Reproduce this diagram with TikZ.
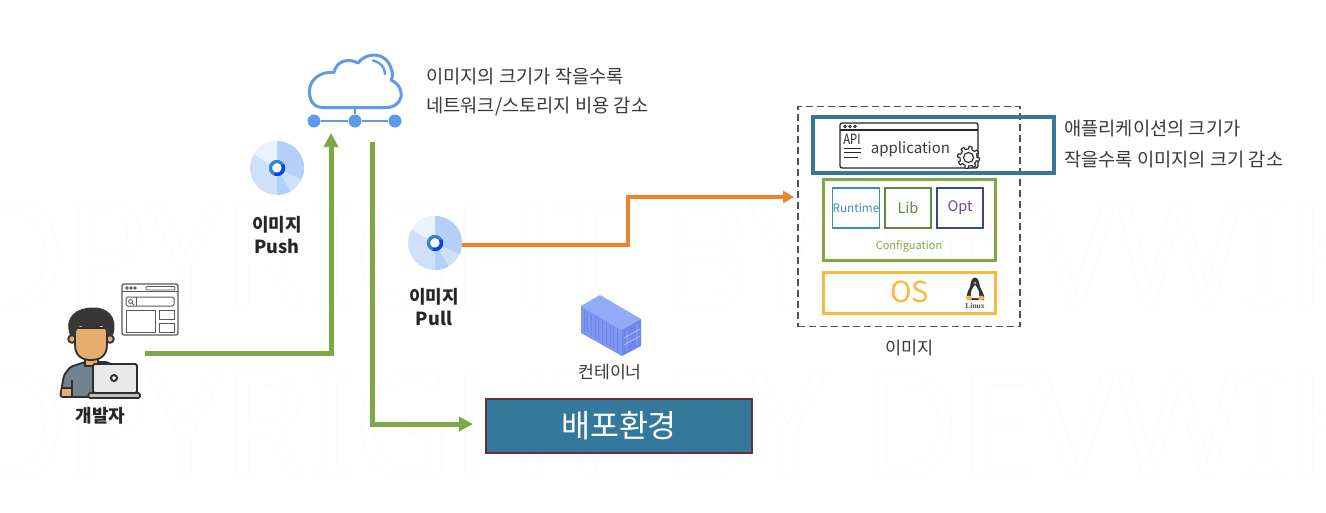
\documentclass[tikz,border=0pt]{standalone}
\usepackage{fontspec}
\usepackage{graphicx}
\setmainfont{Noto Sans CJK KR}
\newfontfamily\wmf[FakeStretch=0.925]{Noto Sans}
\newfontfamily\serf{Liberation Serif}
\usetikzlibrary{arrows.meta}
\definecolor{grn}{HTML}{7CA845}
\definecolor{org}{HTML}{E8832F}
\definecolor{tealb}{HTML}{34799B}
\definecolor{blu}{HTML}{5F9BEA}
\definecolor{txt}{HTML}{3A3A3A}
\definecolor{ylw}{HTML}{F7B93F}
\definecolor{dlg}{HTML}{2F2F2F}
\definecolor{skin}{HTML}{E5AE6E}
\definecolor{shirt}{HTML}{71838F}
\definecolor{dsk}{HTML}{CFE0FA}
\definecolor{dsk2}{HTML}{B4D0F8}
\definecolor{dsk3}{HTML}{EAF2FD}
\definecolor{ctop}{HTML}{93ABF6}
\definecolor{cside}{HTML}{7F96F0}
\definecolor{cend}{HTML}{6F88E8}
\definecolor{cline}{HTML}{6C84E4}
\definecolor{dashc}{HTML}{4D5259}
\definecolor{rtc}{HTML}{3E8FB0}
\definecolor{libc}{HTML}{5E8A45}
\definecolor{optb}{HTML}{2F4A8F}
\definecolor{optt}{HTML}{6B4A8E}
\definecolor{depb}{HTML}{6E2C3A}
\tikzset{
  lbl/.style={font=\fontsize{18.7}{22}\selectfont,text=txt,inner sep=0pt,anchor=west},
  blbl/.style={font=\fontsize{18}{21.5}\selectfont\bfseries,text=black!85,inner sep=0pt,align=center},
  flow/.style={line width=5pt,color=grn,-{Triangle[length=14pt,width=14pt]}},
  orflow/.style={line width=3.6pt,color=org,-{Triangle[length=11pt,width=12pt]}},
  pt/.style={inner sep=0pt,minimum size=0pt},
  ibox/.style={draw,inner sep=0pt,fill=none},
  wmk/.style={pt,anchor=base west,font=\fontsize{146}{150}\selectfont\wmf},
}
\newcommand{\disc}[2]{%
  \begin{scope}[shift={(#1,#2)}]
    \fill[dsk] (0,0) circle (27);
    \fill[dsk2] (0,0) -- (-90:27) arc (-90:25:27) -- cycle;
    \fill[dsk2] (0,0) -- (60:27) arc (60:90:27) -- cycle;
    \fill[dsk3] (0,0) -- (-90:27) arc (-90:-150:27) -- cycle;
    \fill[white] (0,0) circle (8.5);
    \draw[line width=3.4pt,color=cyan!55!blue!85!white] (0,0) circle (6.5);
    \draw[line width=3.4pt,color=blue!75!cyan] (-30:6.5) arc (-30:110:6.5);
  \end{scope}}
\newcommand{\wmtext}{\special{pdf:code q 1 Tr 0.5 w 0.98 G}COPYRIGHT BY DEVWIKI\special{pdf:code Q}}
\begin{document}
\begin{tikzpicture}[x=1pt,y=-1pt]
\useasboundingbox (0,0) rectangle (1326,512);
\fill[white] (0,0) rectangle (1326,512);
% watermark
\begin{scope}
\clip (0,0) rectangle (1326,512);
\node[wmk] (wm1) at (-123,307) {\wmtext};
\node[wmk] (wm2) at (-123,477) {\wmtext};
\end{scope}
% cloud
\draw[blu,line width=3pt,line join=round,fill=white]
  (322,107.5) .. controls (312,107) and (309,98) .. (309.5,90)
  .. controls (310,80) and (320,71) .. (334,72.5)
  .. controls (336,62) and (347,57) .. (358,63)
  .. controls (365,53) and (385,50) .. (391,68)
  .. controls (393,73) and (393,77) .. (391,80)
  .. controls (400,84) and (402,92) .. (401,97)
  .. controls (399,104) and (394,107.5) .. (386,107.5) -- cycle;
\draw[blu,line width=2.4pt,line cap=round] (373,60.5) .. controls (380,62) and (385,67) .. (385,74);
\node[pt,circle,fill=blu,minimum size=13pt] (d1) at (314,121) {};
\node[pt,circle,fill=blu,minimum size=13pt] (d2) at (355,121) {};
\node[pt,circle,fill=blu,minimum size=13pt] (d3) at (395,121) {};
\coordinate (stem) at (355,108);
\draw[blu,line width=2.6pt] (d1)--(d2)--(d3);
\draw[blu,line width=2.6pt] (stem)--(d2);
\node[lbl] (t1) at (426,77) {이미지의 크기가 작을수록};
\node[lbl] (t2) at (426,106) {네트워크/스토리지 비용 감소};
% discs
\disc{277}{168}
\disc{435}{243}
\node[blbl] (push) at (277,235) {이미지\\Push};
\node[blbl] (pull) at (434,307) {이미지\\Pull};
% developer
\begin{scope}
  % browser window
  \draw[black!65,line width=1.2pt,rounded corners=2pt,fill=white] (122,284) rectangle (178,335);
  \draw[black!65,line width=1pt] (122,291) -- (178,291);
  \foreach \xx in {127,131,135}{\draw[black!65,line width=.8pt] (\xx,288) circle (1.3);}
  \draw[black!65,line width=.8pt,rounded corners=1pt] (146,286.5) rectangle (175,290);
  \draw[black!65,line width=1pt,rounded corners=1.5pt] (126,297) rectangle (174,306);
  \draw[black!65,line width=.8pt] (136,297) -- (136,306);
  \draw[black!65,line width=.8pt] (130.5,301.5) circle (2) (132,303) -- (134,305);
  \draw[black!65,line width=1pt] (126,310) rectangle (155,332);
  \draw[black!65,line width=1pt] (159,310) rectangle (174,319);
  \draw[black!65,line width=1pt] (159,323) rectangle (174,332);
  % person
  \draw[dlg,line width=1.8pt,fill=shirt,rounded corners=3pt] (60,397) -- (64,375) -- (70,367) -- (85,362) -- (108,362) -- (118,370) -- (118,397) -- cycle;
  \fill[skin] (62,388) rectangle (72,396);
  \draw[dlg,line width=1.6pt] (72,380) -- (72,396);
  \draw[dlg,line width=1.6pt] (61,388) -- (72,388);
  \draw[dlg,line width=1.8pt,fill=skin] (85,352) rectangle (98,366);
  \draw[dlg,line width=1.8pt,fill=skin] (72,339) circle (3.8);
  \draw[dlg,line width=1.8pt,fill=skin] (110,339) circle (3.8);
  \draw[dlg,line width=1.8pt,fill=skin] (75,328) -- (75,345) .. controls (75,358) and (85,360) .. (91,360) .. controls (97,360) and (107,358) .. (107,345) -- (107,328) -- cycle;
  \fill[dlg!90!gray] (70,335) .. controls (63,316) and (78,307.5) .. (92,307.5) .. controls (106,306.5) and (119,316) .. (113,335) -- (107,337) .. controls (107,332) and (106,329) .. (102,326) .. controls (93,329) and (84,328) .. (80,326) .. controls (76,329) and (76,332) .. (75,337) -- cycle;
  % laptop
  \draw[dlg,line width=1.8pt,fill=black!9,rounded corners=1.5pt] (93,364) rectangle (137,393);
  \draw[dlg,line width=1.6pt,fill=black!25,rounded corners=1.5pt] (88.5,393) rectangle (140,398);
  \draw[dlg,line width=2pt,fill=white] (114,378) circle (3);
\end{scope}
\node[blbl] (dev) at (100.5,416) {개발자};
\coordinate (devout) at (145,353);
\coordinate (cloudin) at (331,133);
\coordinate (cloudout) at (372,142);
% container
\fill[ctop] (600,295) -- (641,319) -- (622,330) -- (581,306) -- cycle;
\fill[cside] (581,306) -- (622,330) -- (622,356) -- (581,333) -- cycle;
\fill[cend] (622,330) -- (641,319) -- (641,346) -- (622,356) -- cycle;
\foreach \k in {0,...,9}{\draw[cline,line width=.7pt] ({584+\k*3.7},{310+\k*2.1}) -- ({584+\k*3.7},{332+\k*2.1});}
\draw[white!70!blue,line width=.9pt] (627,331) -- (627,350) (637,325) -- (637,345) (624,338) -- (640,329) (624,345) -- (640,336);
\node[pt,font=\fontsize{17.2}{20}\selectfont,text=txt] (ctr) at (610,372) {컨테이너};
% deploy
\node[pt,draw=depb,line width=1.5pt,fill=tealb,minimum width=266pt,minimum height=54pt,text=white,font=\fontsize{31.5}{36}\selectfont] (deploy) at (619,426) {배포환경};
% image boxes
\node[ibox,draw=dashc,dashed,dash pattern=on 7pt off 4pt,line width=1.8pt,minimum width=222pt,minimum height=220pt] (img) at (909,216.5) {};
\node[ibox,draw=tealb,line width=3.2pt,minimum width=241pt,minimum height=56pt] (app) at (933.5,145) {};
\node[ibox,draw=grn,line width=3pt,minimum width=172pt,minimum height=81pt] (cfg) at (909.5,219.5) {};
\node[ibox,draw=ylw,line width=3pt,minimum width=172pt,minimum height=41pt] (os) at (909.5,292.5) {};
\node[ibox,draw=rtc,line width=1.4pt,minimum width=46pt,minimum height=40pt,font=\fontsize{11.7}{13}\selectfont,text=rtc] (rt) at (856,208) {Runtime};
\node[ibox,draw=libc,line width=1.4pt,minimum width=46pt,minimum height=40pt,font=\fontsize{14.5}{16}\selectfont,text=libc] (lib) at (908,208) {Lib};
\node[ibox,draw=optb,line width=1.4pt,minimum width=46pt,minimum height=40pt,font=\fontsize{14.5}{16}\selectfont,text=optt] (opt) at (960,208) {Opt};
\node[pt,font=\fontsize{11}{13}\selectfont,text=grn] (cfgt) at (909,246) {Configuation};
\node[pt,font=\fontsize{29}{32}\selectfont,text=ylw] (ost) at (909.5,292) {OS};
% linux
\fill[black!80] (975,277.5) .. controls (971,278) and (971,283) .. (970,287) .. controls (968,291) and (966,295) .. (967,300) -- (984,300) .. controls (985,295) and (982,291) .. (980,287) .. controls (979,283) and (979,278) .. (975,277.5) -- cycle;
\fill[white] (975,285) .. controls (972,288) and (970,293) .. (971,298) -- (979,298) .. controls (980,293) and (978,288) .. (975,285) -- cycle;
\fill[ylw] (969,298) ellipse (3 and 2.5) (981,298) ellipse (3 and 2.5) (975,283) ellipse (1.6 and 1);
\node[pt,font=\fontsize{7.5}{8}\selectfont\serf\bfseries,text=black!70] (lnx) at (975,305.5) {Linux};
\node[pt,font=\fontsize{17.5}{20}\selectfont,text=txt] (imgl) at (909.5,348) {이미지};
% application window
\draw[black!85,line width=1.3pt,rounded corners=2pt,fill=white] (840,123) rectangle (978,168);
\draw[black!85,line width=1.1pt] (840,130) -- (978,130);
\foreach \xx in {845,850,855}{\draw[black!85,line width=.9pt] (\xx,126.5) circle (1.3);}
\node[pt,font=\fontsize{14}{14}\selectfont,text=black!85] (api) at (852,139) {\scalebox{.8}[1]{API}};
\draw[black!85,line width=1pt] (844,148)--(861,148) (844,152)--(861,152) (844,157)--(858,157);
\node[pt,font=\fontsize{15}{18}\selectfont,text=txt] (appt) at (910.5,149) {application};
\draw[black!85,line width=1.1pt,fill=white,line join=round] plot[variable=\t,samples=145,domain=0:360] ({968.5+(8.5+2.5*(sin(8*\t)>0))*cos(\t)},{157.5+(8.5+2.5*(sin(8*\t)>0))*sin(\t)}) -- cycle;
\draw[black!85,line width=1.1pt,fill=white] (968.5,157.5) circle (5);
\node[lbl] (t3) at (1064,129) {애플리케이션의 크기가};
\node[lbl] (t4) at (1064,160) {작을수록 이미지의 크기 감소};
% connectors
\coordinate (dp) at (473,424);
\draw[flow] (devout) -| (cloudin);
\draw[flow] (cloudout) |- (dp);
\coordinate (tgt) at (794,197);
\coordinate (oa) at (628,245);
\coordinate (ob) at (628,197);
\coordinate (pullr) at (462,245);
\draw[orflow] (pullr) -- (oa) -- (ob) -- (tgt);
\end{tikzpicture}
\end{document}
